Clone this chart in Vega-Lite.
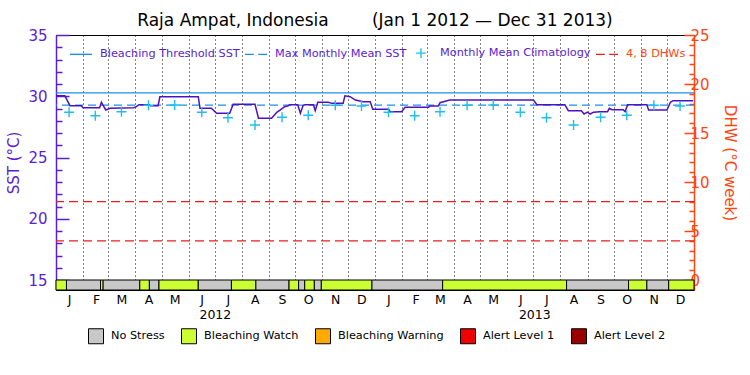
{
  "$schema": "https://vega.github.io/schema/vega-lite/v6.json",
  "width": 638,
  "height": 255,
  "autosize": {"type": "none"},
  "padding": {"left": 56, "top": 35, "right": 56, "bottom": 85},
  "background": "white",
  "title": {
    "text": "Raja Ampat, Indonesia\u00a0\u00a0\u00a0\u00a0\u00a0\u00a0\u00a0\u00a0(Jan 1 2012 \u2014 Dec 31 2013)",
    "font": "DejaVu Sans",
    "fontSize": 17,
    "fontWeight": "normal",
    "color": "black",
    "anchor": "middle",
    "frame": "group",
    "offset": -2
  },
  "config": {
    "view": {"stroke": "black", "strokeWidth": 1},
    "axis": {"labelFont": "DejaVu Sans", "titleFont": "DejaVu Sans", "titleFontWeight": "normal"},
    "legend": {"labelFont": "DejaVu Sans"}
  },
  "datasets": {
    "sst": [
      {"date": "2012-01-01", "sst": 30.04},
      {"date": "2012-01-11", "sst": 30.04},
      {"date": "2012-01-13", "sst": 29.78},
      {"date": "2012-01-17", "sst": 29.23},
      {"date": "2012-01-30", "sst": 29.23},
      {"date": "2012-02-01", "sst": 29.07},
      {"date": "2012-02-20", "sst": 29.07},
      {"date": "2012-02-22", "sst": 29.51},
      {"date": "2012-02-27", "sst": 28.88},
      {"date": "2012-03-03", "sst": 29.02},
      {"date": "2012-03-30", "sst": 29.07},
      {"date": "2012-04-02", "sst": 29.15},
      {"date": "2012-04-05", "sst": 29.31},
      {"date": "2012-04-17", "sst": 29.31},
      {"date": "2012-04-18", "sst": 29.23},
      {"date": "2012-04-27", "sst": 29.23},
      {"date": "2012-04-29", "sst": 29.96},
      {"date": "2012-06-12", "sst": 29.96},
      {"date": "2012-06-14", "sst": 29.02},
      {"date": "2012-06-27", "sst": 29.02},
      {"date": "2012-07-03", "sst": 28.61},
      {"date": "2012-07-18", "sst": 28.61},
      {"date": "2012-07-22", "sst": 29.34},
      {"date": "2012-08-16", "sst": 29.34},
      {"date": "2012-08-20", "sst": 28.2},
      {"date": "2012-09-04", "sst": 28.2},
      {"date": "2012-09-10", "sst": 28.69},
      {"date": "2012-09-14", "sst": 28.88},
      {"date": "2012-09-19", "sst": 29.15},
      {"date": "2012-09-23", "sst": 29.23},
      {"date": "2012-09-25", "sst": 29.3},
      {"date": "2012-10-04", "sst": 29.3},
      {"date": "2012-10-07", "sst": 28.61},
      {"date": "2012-10-10", "sst": 29.23},
      {"date": "2012-10-12", "sst": 29.3},
      {"date": "2012-10-22", "sst": 29.3},
      {"date": "2012-10-24", "sst": 28.82},
      {"date": "2012-10-27", "sst": 29.51},
      {"date": "2012-11-08", "sst": 29.51},
      {"date": "2012-11-12", "sst": 29.42},
      {"date": "2012-11-25", "sst": 29.42},
      {"date": "2012-11-27", "sst": 30.04},
      {"date": "2012-12-03", "sst": 29.96},
      {"date": "2012-12-09", "sst": 29.69},
      {"date": "2012-12-18", "sst": 29.55},
      {"date": "2012-12-26", "sst": 29.55},
      {"date": "2012-12-29", "sst": 28.93},
      {"date": "2013-01-16", "sst": 28.93},
      {"date": "2013-01-18", "sst": 28.74},
      {"date": "2013-01-31", "sst": 28.74},
      {"date": "2013-02-04", "sst": 29.1},
      {"date": "2013-03-03", "sst": 29.1},
      {"date": "2013-03-04", "sst": 29.2},
      {"date": "2013-03-14", "sst": 29.2},
      {"date": "2013-03-16", "sst": 29.47},
      {"date": "2013-03-24", "sst": 29.64},
      {"date": "2013-03-27", "sst": 29.69},
      {"date": "2013-07-01", "sst": 29.69},
      {"date": "2013-07-05", "sst": 29.31},
      {"date": "2013-08-06", "sst": 29.31},
      {"date": "2013-08-10", "sst": 28.82},
      {"date": "2013-08-25", "sst": 28.82},
      {"date": "2013-08-28", "sst": 28.55},
      {"date": "2013-09-01", "sst": 28.7},
      {"date": "2013-09-04", "sst": 28.55},
      {"date": "2013-09-08", "sst": 28.7},
      {"date": "2013-09-15", "sst": 28.74},
      {"date": "2013-09-24", "sst": 28.74},
      {"date": "2013-09-26", "sst": 29.02},
      {"date": "2013-09-29", "sst": 28.9},
      {"date": "2013-10-12", "sst": 28.9},
      {"date": "2013-10-14", "sst": 28.74},
      {"date": "2013-10-17", "sst": 29.31},
      {"date": "2013-11-08", "sst": 29.31},
      {"date": "2013-11-10", "sst": 28.88},
      {"date": "2013-12-01", "sst": 28.88},
      {"date": "2013-12-05", "sst": 29.51},
      {"date": "2013-12-08", "sst": 29.64},
      {"date": "2013-12-31", "sst": 29.64}
    ],
    "clim": [
      {"date": "2012-01-16", "sst": 28.69},
      {"date": "2012-02-15", "sst": 28.41},
      {"date": "2012-03-16", "sst": 28.74},
      {"date": "2012-04-16", "sst": 29.27},
      {"date": "2012-05-16", "sst": 29.28},
      {"date": "2012-06-16", "sst": 28.69},
      {"date": "2012-07-16", "sst": 28.25},
      {"date": "2012-08-16", "sst": 27.65},
      {"date": "2012-09-16", "sst": 28.28},
      {"date": "2012-10-16", "sst": 28.45},
      {"date": "2012-11-16", "sst": 29.26},
      {"date": "2012-12-16", "sst": 29.2},
      {"date": "2013-01-16", "sst": 28.69},
      {"date": "2013-02-15", "sst": 28.41},
      {"date": "2013-03-16", "sst": 28.74},
      {"date": "2013-04-16", "sst": 29.27},
      {"date": "2013-05-16", "sst": 29.28},
      {"date": "2013-06-16", "sst": 28.69},
      {"date": "2013-07-16", "sst": 28.25},
      {"date": "2013-08-16", "sst": 27.65},
      {"date": "2013-09-16", "sst": 28.28},
      {"date": "2013-10-16", "sst": 28.45},
      {"date": "2013-11-16", "sst": 29.26},
      {"date": "2013-12-16", "sst": 29.2}
    ],
    "refs": [
      {"name": "Bleaching Threshold SST", "sst": 30.28},
      {"name": "Max Monthly Mean SST", "sst": 29.28}
    ],
    "dhw": [{"dhw": 4}, {"dhw": 8}],
    "status": [
      {"start": "2012-01-01", "end": "2012-01-13", "status": "Bleaching Watch"},
      {"start": "2012-01-13", "end": "2012-02-21", "status": "No Stress"},
      {"start": "2012-02-21", "end": "2012-02-24", "status": "Bleaching Watch"},
      {"start": "2012-02-24", "end": "2012-04-06", "status": "No Stress"},
      {"start": "2012-04-06", "end": "2012-04-17", "status": "Bleaching Watch"},
      {"start": "2012-04-17", "end": "2012-04-28", "status": "No Stress"},
      {"start": "2012-04-28", "end": "2012-06-12", "status": "Bleaching Watch"},
      {"start": "2012-06-12", "end": "2012-07-20", "status": "No Stress"},
      {"start": "2012-07-20", "end": "2012-08-17", "status": "Bleaching Watch"},
      {"start": "2012-08-17", "end": "2012-09-24", "status": "No Stress"},
      {"start": "2012-09-24", "end": "2012-10-05", "status": "Bleaching Watch"},
      {"start": "2012-10-05", "end": "2012-10-12", "status": "No Stress"},
      {"start": "2012-10-12", "end": "2012-10-23", "status": "Bleaching Watch"},
      {"start": "2012-10-23", "end": "2012-10-31", "status": "No Stress"},
      {"start": "2012-10-31", "end": "2012-12-28", "status": "Bleaching Watch"},
      {"start": "2012-12-28", "end": "2013-03-19", "status": "No Stress"},
      {"start": "2013-03-19", "end": "2013-08-08", "status": "Bleaching Watch"},
      {"start": "2013-08-08", "end": "2013-10-18", "status": "No Stress"},
      {"start": "2013-10-18", "end": "2013-11-08", "status": "Bleaching Watch"},
      {"start": "2013-11-08", "end": "2013-12-03", "status": "No Stress"},
      {"start": "2013-12-03", "end": "2014-01-01", "status": "Bleaching Watch"}
    ],
    "series": [
      {"series": "Bleaching Threshold SST"},
      {"series": "Max Monthly Mean SST"},
      {"series": "Monthly Mean Climatology"},
      {"series": "4, 8 DHWs"}
    ]
  },
  "resolve": {"scale": {"y": "independent"}, "axis": {"x": "independent", "y": "independent"}},
  "layer": [
    {
      "data": {"name": "refs"},
      "transform": [{"filter": "datum.name === 'Bleaching Threshold SST'"}],
      "mark": {"type": "rule", "color": "#1f8fe6", "strokeWidth": 1.3},
      "encoding": {
        "y": {"field": "sst", "type": "quantitative", "scale": {"domain": [14.1837, 35], "nice": false, "zero": false}, "axis": null}
      }
    },
    {
      "data": {"name": "refs"},
      "transform": [{"filter": "datum.name === 'Max Monthly Mean SST'"}],
      "mark": {"type": "rule", "color": "#1f8fe6", "strokeWidth": 1.3, "strokeDash": [8, 5]},
      "encoding": {
        "y": {"field": "sst", "type": "quantitative", "scale": {"domain": [14.1837, 35], "nice": false, "zero": false}, "axis": null}
      }
    },
    {
      "data": {"name": "dhw"},
      "mark": {"type": "rule", "color": "#ee1c1c", "strokeWidth": 1.3, "strokeDash": [9, 5]},
      "encoding": {
        "y": {
          "field": "dhw", "type": "quantitative",
          "scale": {"domain": [-1.0204, 25], "nice": false, "zero": false},
          "axis": {
            "orient": "right",
            "title": "DHW (\u00b0C week)",
            "titleColor": "#ff4514",
            "titleFontSize": 15,
            "titlePadding": 12,
            "values": [0, 1, 2, 3, 4, 5, 6, 7, 8, 9, 10, 11, 12, 13, 14, 15, 16, 17, 18, 19, 20, 21, 22, 23, 24, 25],
            "labelExpr": "datum.value % 5 === 0 ? datum.label : ''",
            "labelColor": "#ff4514",
            "labelFontSize": 15,
            "labelPadding": 6,
            "labelOverlap": false,
            "labelBound": false,
            "labelFlush": false,
            "domainColor": "#ff4514",
            "domainWidth": 1.5,
            "tickColor": "#ff4514",
            "tickWidth": 1.5,
            "tickSize": {"condition": {"test": "datum.value % 5 === 0", "value": -10}, "value": -5},
            "grid": false
          }
        }
      }
    },
    {
      "data": {"name": "sst"},
      "mark": {"type": "line", "color": "#4d12bf", "strokeWidth": 1.5},
      "encoding": {
        "x": {
          "field": "date", "type": "temporal",
          "scale": {"type": "utc", "nice": false, "domain": [{"year": 2012, "month": 1, "date": 1, "utc": true}, {"year": 2014, "month": 1, "date": 1, "utc": true}]},
          "axis": {
            "orient": "bottom",
            "title": null,
            "values": [
              {"year": 2012, "month": 1, "date": 1, "utc": true},
              {"year": 2012, "month": 2, "date": 1, "utc": true},
              {"year": 2012, "month": 3, "date": 1, "utc": true},
              {"year": 2012, "month": 4, "date": 1, "utc": true},
              {"year": 2012, "month": 5, "date": 1, "utc": true},
              {"year": 2012, "month": 6, "date": 1, "utc": true},
              {"year": 2012, "month": 7, "date": 1, "utc": true},
              {"year": 2012, "month": 8, "date": 1, "utc": true},
              {"year": 2012, "month": 9, "date": 1, "utc": true},
              {"year": 2012, "month": 10, "date": 1, "utc": true},
              {"year": 2012, "month": 11, "date": 1, "utc": true},
              {"year": 2012, "month": 12, "date": 1, "utc": true},
              {"year": 2013, "month": 1, "date": 1, "utc": true},
              {"year": 2013, "month": 2, "date": 1, "utc": true},
              {"year": 2013, "month": 3, "date": 1, "utc": true},
              {"year": 2013, "month": 4, "date": 1, "utc": true},
              {"year": 2013, "month": 5, "date": 1, "utc": true},
              {"year": 2013, "month": 6, "date": 1, "utc": true},
              {"year": 2013, "month": 7, "date": 1, "utc": true},
              {"year": 2013, "month": 8, "date": 1, "utc": true},
              {"year": 2013, "month": 9, "date": 1, "utc": true},
              {"year": 2013, "month": 10, "date": 1, "utc": true},
              {"year": 2013, "month": 11, "date": 1, "utc": true},
              {"year": 2013, "month": 12, "date": 1, "utc": true}
            ],
            "labelExpr": "substring(utcFormat(datum.value, '%b'), 0, 1)",
            "labelOffset": 13,
            "labelPadding": 3,
            "labelFontSize": 12.5,
            "labelColor": "black",
            "labelFlush": false,
            "labelOverlap": false,
            "labelSeparation": 0,
            "labelBound": false,
            "ticks": false,
            "domain": false,
            "grid": true,
            "gridColor": "black",
            "gridDash": [1, 3],
            "gridWidth": 1,
            "gridOpacity": 1
          }
        },
        "y": {
          "field": "sst", "type": "quantitative",
          "scale": {"domain": [14.1837, 35], "nice": false, "zero": false},
          "axis": {
            "orient": "left",
            "title": "SST (\u00b0C)",
            "titleColor": "#5a1ed2",
            "titleFontSize": 15,
            "titlePadding": 6,
            "values": [15, 16, 17, 18, 19, 20, 21, 22, 23, 24, 25, 26, 27, 28, 29, 30, 31, 32, 33, 34, 35],
            "labelExpr": "datum.value % 5 === 0 ? datum.label : ''",
            "labelColor": "#5a1ed2",
            "labelFontSize": 15,
            "labelPadding": 22,
            "labelOverlap": false,
            "labelBound": false,
            "labelFlush": false,
            "domainColor": "#5a1ed2",
            "domainWidth": 1.5,
            "tickColor": "#5a1ed2",
            "tickWidth": 1.5,
            "tickSize": {"condition": {"test": "datum.value % 5 === 0", "value": -13}, "value": -6},
            "grid": false
          }
        }
      }
    },
    {
      "data": {"name": "clim"},
      "mark": {"type": "point", "shape": "M-1,0H1M0,-1V1", "size": 100, "filled": false, "color": "#1ebef0", "strokeWidth": 1.4, "opacity": 1},
      "encoding": {
        "x": {"field": "date", "type": "temporal", "scale": {"type": "utc", "nice": false, "domain": [{"year": 2012, "month": 1, "date": 1, "utc": true}, {"year": 2014, "month": 1, "date": 1, "utc": true}]}, "axis": null},
        "y": {"field": "sst", "type": "quantitative", "scale": {"domain": [14.1837, 35], "nice": false, "zero": false}, "axis": null}
      }
    },
    {
      "data": {"name": "status"},
      "mark": {"type": "rect", "stroke": "black", "strokeWidth": 1},
      "encoding": {
        "x": {
          "field": "start", "type": "temporal",
          "scale": {"type": "utc", "nice": false, "domain": [{"year": 2012, "month": 1, "date": 1, "utc": true}, {"year": 2014, "month": 1, "date": 1, "utc": true}]},
          "axis": {
            "orient": "bottom",
            "title": null,
            "values": [{"year": 2012, "month": 7, "date": 1, "utc": true}, {"year": 2013, "month": 7, "date": 2, "utc": true}],
            "labelExpr": "utcFormat(datum.value, '%Y')",
            "labelPadding": 18,
            "labelFontSize": 12.5,
            "labelColor": "black",
            "labelFlush": false,
            "labelOverlap": false,
            "ticks": false,
            "domain": false,
            "grid": false
          }
        },
        "x2": {"field": "end"},
        "y": {"datum": 14.1837, "type": "quantitative", "scale": {"domain": [14.1837, 35], "nice": false, "zero": false}, "axis": null},
        "y2": {"datum": 15},
        "fill": {
          "field": "status", "type": "nominal",
          "scale": {"domain": ["No Stress", "Bleaching Watch", "Bleaching Warning", "Alert Level 1", "Alert Level 2"], "range": ["#c8c8c8", "#ccff33", "#ffaa00", "#ee0000", "#990000"]},
          "legend": {
            "orient": "none", "legendX": 32, "legendY": 293, "direction": "horizontal", "columns": 5,
            "title": null, "padding": 0,
            "symbolType": "square", "symbolSize": 225, "symbolStrokeColor": "black", "symbolStrokeWidth": 1, "symbolOpacity": 1,
            "labelFontSize": 11.3, "labelOffset": 7, "columnPadding": 14, "labelColor": "black", "labelLimit": 300
          }
        }
      }
    },
    {
      "data": {"name": "series"},
      "mark": {"type": "point", "filled": false, "opacity": 0},
      "encoding": {
        "stroke": {
          "field": "series", "type": "nominal",
          "scale": {"domain": ["Bleaching Threshold SST", "Max Monthly Mean SST", "Monthly Mean Climatology", "4, 8 DHWs"], "range": ["#1f8fe6", "#1f8fe6", "#1ebef0", "#ee1c1c"]},
          "legend": {
            "orient": "none", "legendX": 13, "legendY": 6, "direction": "horizontal", "columns": 4,
            "title": null, "padding": 0,
            "symbolSize": 484, "symbolStrokeWidth": 1.4, "symbolOpacity": 1, "symbolFillColor": "transparent",
            "labelFontSize": 11.3, "labelOffset": 7, "columnPadding": 2, "labelLimit": 300,
            "labelColor": {"expr": "datum.value === '4, 8 DHWs' ? '#ff4514' : '#5a1ed2'"}
          }
        },
        "shape": {
          "field": "series", "type": "nominal",
          "scale": {"domain": ["Bleaching Threshold SST", "Max Monthly Mean SST", "Monthly Mean Climatology", "4, 8 DHWs"], "range": ["M-1,0H1", "M-1,0H-0.2M0.2,0H1", "M-0.45,0H0.45M0,-0.45V0.45", "M-1,0H-0.2M0.2,0H1"]},
          "legend": {
            "orient": "none", "legendX": 13, "legendY": 6, "direction": "horizontal", "columns": 4,
            "title": null, "padding": 0,
            "symbolSize": 484, "symbolStrokeWidth": 1.4, "symbolOpacity": 1, "symbolFillColor": "transparent",
            "labelFontSize": 11.3, "labelOffset": 7, "columnPadding": 2, "labelLimit": 300,
            "labelColor": {"expr": "datum.value === '4, 8 DHWs' ? '#ff4514' : '#5a1ed2'"}
          }
        }
      }
    }
  ]
}
